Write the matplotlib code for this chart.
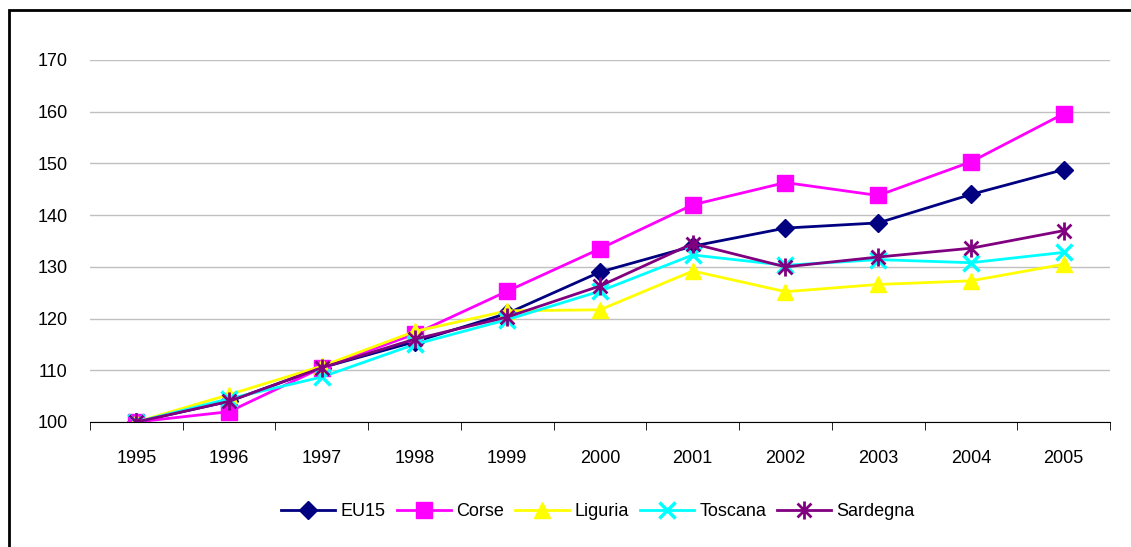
import matplotlib.pyplot as plt
from matplotlib.patches import Rectangle
from matplotlib.path import Path

plt.rcParams['font.family'] = ['Liberation Sans Narrow', 'Liberation Sans', 'DejaVu Sans']

years = ['1995', '1996', '1997', '1998', '1999', '2000', '2001', '2002', '2003', '2004', '2005']
eu15 = [100, 104, 110.5, 115.5, 121, 129, 134, 137.5, 138.5, 144, 148.8]
corse = [100, 102, 110.5, 117, 125.3, 133.5, 142, 146.3, 143.8, 150.3, 159.6]
liguria = [100, 105.3, 110.8, 117.5, 121.5, 121.7, 129.2, 125.2, 126.6, 127.3, 130.5]
toscana = [100, 104.5, 108.7, 115, 119.8, 125.3, 132.3, 130.3, 131.4, 130.8, 132.8]
sardegna = [100, 104, 110.5, 116, 120.3, 126.3, 134.5, 130, 131.9, 133.6, 137]

# excel-style star: X plus a vertical bar
star = Path([(-1, -1), (1, 1), (-1, 1), (1, -1), (0, -1.3), (0, 1.3)],
            [Path.MOVETO, Path.LINETO, Path.MOVETO, Path.LINETO, Path.MOVETO, Path.LINETO])

fig = plt.figure(figsize=(11.31, 5.47), dpi=100)
ax = fig.add_axes([90/1131, 1 - 422/547, 1020/1131, 362/547])

x = list(range(len(years)))
ax.plot(x, eu15, color='#000080', marker='D', markersize=9, lw=2, label='EU15')
ax.plot(x, corse, color='#FF00FF', marker='s', markersize=11, lw=2, label='Corse')
ax.plot(x, liguria, color='#FFFF00', marker='^', markersize=11, lw=2, label='Liguria')
ax.plot(x, toscana, color='#00FFFF', marker='x', markersize=11, mew=2.5, lw=2, label='Toscana')
ax.plot(x, sardegna, color='#800080', marker=star, markersize=13, mew=2, lw=2, label='Sardegna')

ax.set_xlim(-0.5, len(years) - 0.5)
ax.set_ylim(100, 170)
ax.set_yticks(range(100, 171, 10))
ax.set_xticks(x)
ax.set_xticklabels(years)
ax.set_xticks([i - 0.5 for i in range(len(years) + 1)], minor=True)
ax.tick_params(axis='x', which='major', length=0, pad=20, labelsize=13)
ax.tick_params(axis='x', which='minor', length=6, color='#000000')
ax.tick_params(axis='y', length=0, pad=16, labelsize=13)
ax.grid(axis='y', color='#C0C0C0', lw=1)
ax.set_axisbelow(True)
for s in ['left', 'right', 'top']:
    ax.spines[s].set_visible(False)
ax.spines['bottom'].set_color('#000000')

ax.legend(loc='center', bbox_to_anchor=(598/1131, 1 - 512/547), bbox_transform=fig.transFigure,
          ncol=5, frameon=False, fontsize=13, handlelength=3.0, columnspacing=0.6, handletextpad=0.3)

fig.patches.append(Rectangle((8.5/1131, -0.1), 1.2, 1 - 10/547 + 0.1, transform=fig.transFigure,
                             fill=False, edgecolor='black', lw=2))

fig.savefig('out.png', dpi=100)
